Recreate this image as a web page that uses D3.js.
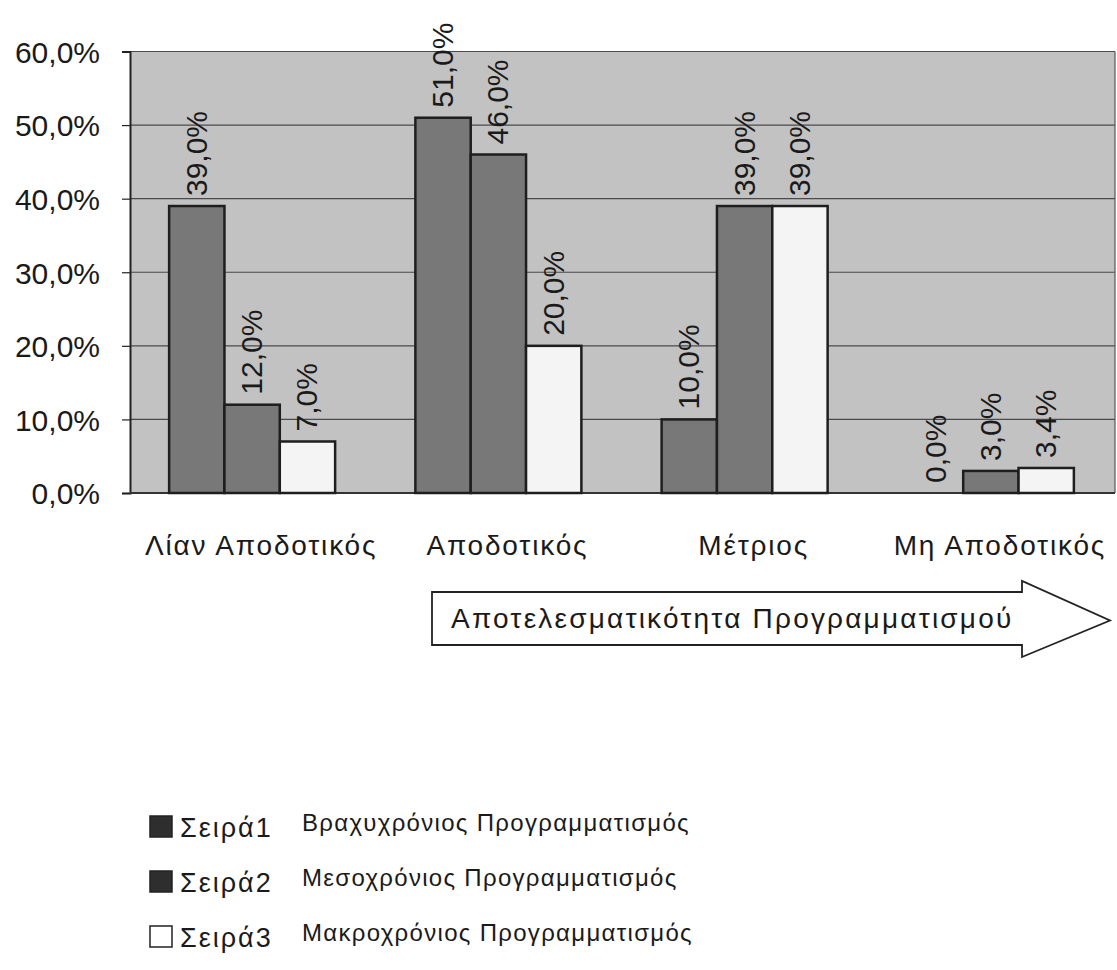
<!DOCTYPE html>
<html>
<head>
<meta charset="utf-8">
<script src="https://cdn.jsdelivr.net/npm/d3@7"></script>
<style>
  html, body { margin: 0; padding: 0; background: #fff; }
  svg { display: block; font-family: "Liberation Sans", Arial, sans-serif; }
</style>
</head>
<body>
<svg id="chart" width="1117" height="970"></svg>
<script>
// ---- data ----
const categories = ["Λίαν Αποδοτικός", "Αποδοτικός", "Μέτριος", "Μη Αποδοτικός"];
const seriesNames = ["Σειρά1", "Σειρά2", "Σειρά3"];
const seriesDescriptions = ["Βραχυχρόνιος Προγραμματισμός", "Μεσοχρόνιος Προγραμματισμός", "Μακροχρόνιος Προγραμματισμός"];
const series1 = [0.39, 0.51, 0.10, 0.00];
const series2 = [0.12, 0.46, 0.39, 0.03];
const series3 = [0.07, 0.20, 0.39, 0.034];
const yTicks = [0, 0.1, 0.2, 0.3, 0.4, 0.5, 0.6];
const arrowLabel = "Αποτελεσματικότητα Προγραμματισμού";

const seriesValues = [series1, series2, series3];
const barFill = ["#787878", "#787878", "#f4f4f4"];
const legendFill = ["#2e2e2e", "#2e2e2e", "#ffffff"];

const svg = d3.select("#chart");
const plot = { left: 130, right: 1115, top: 51.5, bottom: 493 };

const y = d3.scaleLinear().domain([0, 0.6]).range([plot.bottom, plot.top]);
const x0 = d3.scaleBand().domain(categories).range([plot.left, plot.right]).padding(0);
const x1 = d3.scaleBand().domain(seriesNames).range([-84, 82]).padding(0);

const pct = v => d3.format(".1f")(v * 100).replace(".", ",") + "%";

// plot background
svg.append("rect")
  .attr("x", plot.left).attr("y", plot.top)
  .attr("width", plot.right - plot.left).attr("height", plot.bottom - plot.top)
  .attr("fill", "#c2c2c2");

// gridlines
svg.append("g").selectAll("line").data(yTicks.filter(t => t > 0)).join("line")
  .attr("x1", plot.left).attr("x2", plot.right)
  .attr("y1", d => y(d)).attr("y2", d => y(d))
  .attr("stroke", "#4a4a4a").attr("stroke-width", 1.2);

// y axis
const yAxis = d3.axisLeft(y).tickValues(yTicks).tickSize(8).tickFormat(pct);
const gy = svg.append("g").attr("transform", `translate(${plot.left},0)`).call(yAxis);
gy.select(".domain").attr("stroke", "#222").attr("stroke-width", 2);
gy.selectAll(".tick line").attr("stroke", "#222").attr("stroke-width", 1.2);
gy.selectAll(".tick text")
  .attr("x", -30).attr("dy", "0.36em")
  .attr("font-size", 30).attr("fill", "#1a1a1a")
  .style("font-family", "'Liberation Sans', Arial, sans-serif");

// right border
svg.append("line").attr("x1", plot.right).attr("x2", plot.right)
  .attr("y1", plot.top).attr("y2", plot.bottom).attr("stroke", "#555").attr("stroke-width", 1.2);
// baseline
svg.append("line").attr("x1", plot.left).attr("x2", plot.right)
  .attr("y1", plot.bottom).attr("y2", plot.bottom).attr("stroke", "#333").attr("stroke-width", 2);

// bars
const groups = svg.append("g").selectAll("g").data(categories).join("g")
  .attr("transform", d => `translate(${x0(d) + x0.bandwidth() / 2},0)`);

groups.each(function(cat, ci) {
  const g = d3.select(this);
  seriesNames.forEach((s, si) => {
    const v = seriesValues[si][ci];
    if (v > 0) {
      g.append("rect")
        .attr("x", x1(s)).attr("width", x1.bandwidth())
        .attr("y", y(v)).attr("height", y(0) - y(v))
        .attr("fill", barFill[si]).attr("stroke", "#1e1e1e").attr("stroke-width", 2.5);
    }
    const cx = x1(s) + x1.bandwidth() / 2;
    const ty = y(v) - 10;
    g.append("text")
      .attr("transform", `translate(${cx + 10},${ty}) rotate(-90)`)
      .attr("font-size", 30).attr("fill", "#1a1a1a")
      .text(pct(v));
  });
});

// category labels
svg.append("g").selectAll("text").data(categories).join("text")
  .attr("x", d => x0(d) + x0.bandwidth() / 2 + 8)
  .attr("y", 555)
  .attr("text-anchor", "middle")
  .attr("font-size", 28).attr("fill", "#1a1a1a")
  .attr("letter-spacing", 1.8)
  .text(d => d);

// arrow
const ax = { left: 432, right: 1022, top: 592, bottom: 645, headTop: 581, headBottom: 657, tip: 1110 };
const midY = (ax.top + ax.bottom) / 2;
svg.append("path")
  .attr("d", `M${ax.left},${ax.top} L${ax.right},${ax.top} L${ax.right},${ax.headTop} L${ax.tip},${midY + 2} L${ax.right},${ax.headBottom} L${ax.right},${ax.bottom} L${ax.left},${ax.bottom} Z`)
  .attr("fill", "#fff").attr("stroke", "#222").attr("stroke-width", 1.8);
svg.append("text")
  .attr("x", 451).attr("y", 628)
  .attr("font-size", 28).attr("fill", "#1a1a1a")
  .attr("letter-spacing", 2.2)
  .text(arrowLabel);

// legend
const legend = svg.append("g").selectAll("g").data(seriesNames).join("g")
  .attr("transform", (d, i) => `translate(0,${837 + i * 55})`);
legend.append("rect")
  .attr("x", 150).attr("y", -21).attr("width", 22).attr("height", 21)
  .attr("fill", (d, i) => legendFill[i]).attr("stroke", "#222").attr("stroke-width", 1.5);
legend.append("text")
  .attr("x", 180).attr("y", 0)
  .attr("font-size", 27).attr("fill", "#1a1a1a")
  .attr("letter-spacing", 2)
  .text(d => d);
legend.append("text")
  .attr("x", 302).attr("y", -6)
  .attr("font-size", 24).attr("fill", "#1a1a1a")
  .attr("letter-spacing", 1.3)
  .text((d, i) => seriesDescriptions[i]);
</script>
</body>
</html>
